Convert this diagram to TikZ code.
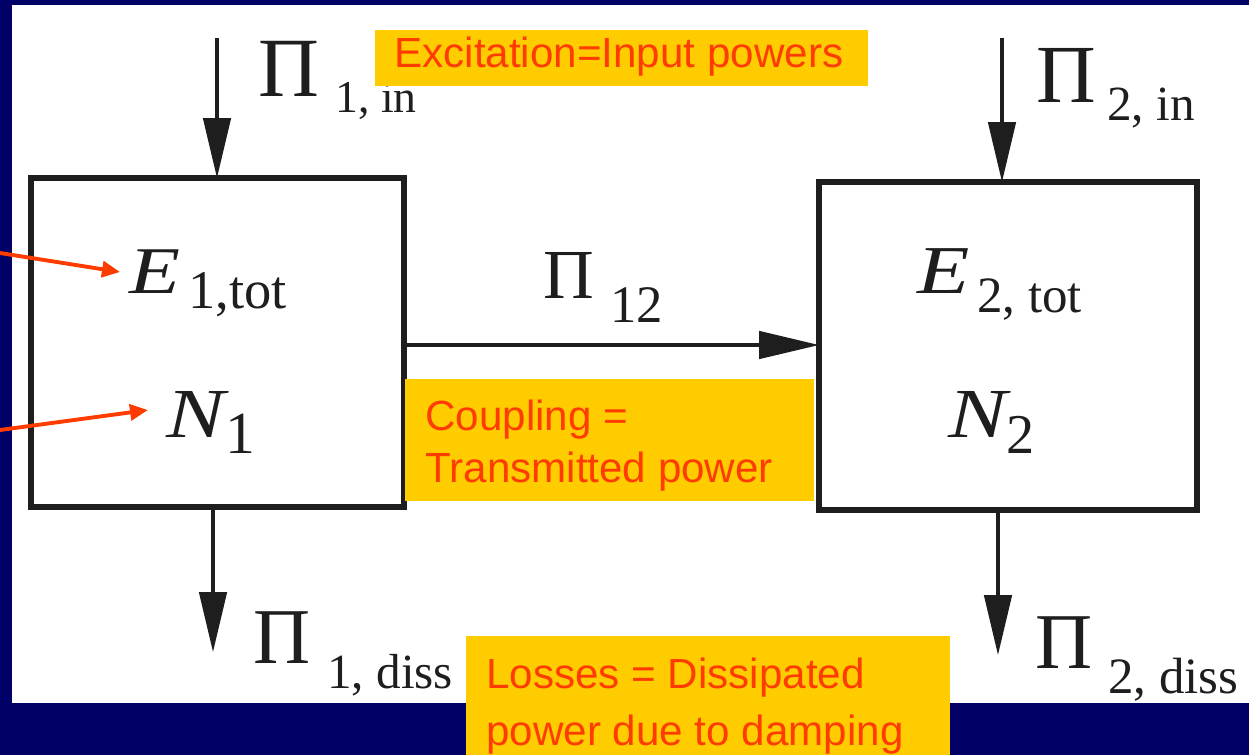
\documentclass[tikz,border=0pt]{standalone}
\usepackage{fontspec}
\setmainfont{Liberation Serif}
\newfontfamily\lsans{Liberation Sans}
\usetikzlibrary{arrows.meta}
\newlength\px \setlength\px{0.02cm}
\newcommand\myfs[1]{\fontsize{#1}{#1}\selectfont}
\newcommand\lab[6]{{\myfs{#1}\makebox[#4\px][l]{#3}}\raisebox{-#5\px}{\myfs{#2}#6}}
\newcommand\wide[1]{\scalebox{1.25}[1]{\itshape #1}}
\definecolor{navy}{RGB}{0,0,102}
\definecolor{ylw}{RGB}{255,204,0}
\definecolor{ored}{RGB}{255,60,0}
\definecolor{ink}{RGB}{30,30,30}
\tikzset{
  sysbox/.style={draw=ink, line width=3.4pt, inner sep=0pt, outer sep=0pt},
  flow/.style={draw=ink, line width=1.8pt, -{Triangle[length=1.2cm,width=0.55cm]}},
  redarr/.style={draw=ored, line width=2.2pt, -{Triangle[length=0.36cm,width=0.32cm]}},
  note/.style={fill=ylw, inner sep=0pt, anchor=north west},
  notetext/.style={anchor=base west, inner sep=0pt, text=ored, align=left},
  lbl/.style={anchor=base west, inner sep=0pt, text=ink}
}
\begin{document}
\begin{tikzpicture}[x=0.02cm,y=-0.02cm]
\useasboundingbox (0,0) rectangle (1249,755);
\fill[navy] (0,0) rectangle (1249,755);
\fill[white] (12,5) rectangle (1249,703);
% boxes
\node[sysbox, minimum width=373\px, minimum height=329\px, anchor=north west] (box1) at (31,178) {};
\node[sysbox, minimum width=378\px, minimum height=328\px, anchor=north west] (box2) at (819,182) {};
% input / output coordinates
\coordinate (in1) at (217,38);
\coordinate (in2) at (1002,38);
\coordinate (out1) at (213,652);
\coordinate (out2) at (998,655);
\draw[flow] (in1) -- (in1 |- box1.north);
\draw[flow] (in2) -- (in2 |- box2.north);
\draw[flow] (out1 |- box1.south) -- (out1);
\draw[flow] (out2 |- box2.south) -- (out2);
\coordinate (c12) at (0,345);
\draw[flow] (c12 -| box1.east) -- (c12 -| box2.west);
% labels
\node[lbl] (p1in) at (258,96) {\lab{48pt}{26pt}{Π}{77}{16}{1, in}};
\node[lbl] (p2in) at (1036,102) {\lab{47pt}{28pt}{Π}{71}{18}{2, in}};
\node[lbl] (p1diss) at (253,663) {\lab{45pt}{28pt}{Π}{74}{25}{1, diss}};
\node[lbl] (p2diss) at (1035,668) {\lab{45pt}{29pt}{Π}{73}{25}{2, diss}};
\node[lbl] (p12) at (543,298) {\lab{40pt}{30pt}{Π}{67}{24}{12}};
\node[lbl] (e1) at (129,293) {\lab{38pt}{31pt}{\wide{E}}{59}{15}{1,tot}};
\node[lbl] (n1) at (166,437) {\lab{40pt}{34pt}{\wide{N}}{59}{16}{1}};
\node[lbl] (e2) at (917,293) {\lab{39pt}{29pt}{\wide{E}}{60}{19}{2, tot}};
\node[lbl] (n2) at (948,437) {\lab{40pt}{32pt}{\wide{N}}{58}{16}{2}};
% red arrows
\coordinate (r1s) at (0,253);
\coordinate (r1e) at (120,272);
\coordinate (r2s) at (0,430);
\coordinate (r2e) at (148,410);
\draw[redarr] (r1s) -- (r1e);
\draw[redarr] (r2s) -- (r2e);
% yellow notes
\node[note, minimum width=493\px, minimum height=56\px] (exc) at (375,30) {};
\node[notetext, font=\lsans\fontsize{24pt}{24pt}\selectfont] (exct) at (394,67) {Excitation=Input powers};
\node[note, minimum width=409\px, minimum height=122\px] (cpl) at (405,379) {};
\node[notetext, font=\lsans\fontsize{24pt}{29.5pt}\selectfont] (cplt) at (425,482) {Coupling =\\Transmitted power};
\node[note, minimum width=484\px, minimum height=119\px] (los) at (466,636) {};
\node[notetext, font=\lsans\fontsize{24pt}{32.3pt}\selectfont] (lost) at (486,745) {Losses = Dissipated\\power due to damping};
\end{tikzpicture}
\end{document}
